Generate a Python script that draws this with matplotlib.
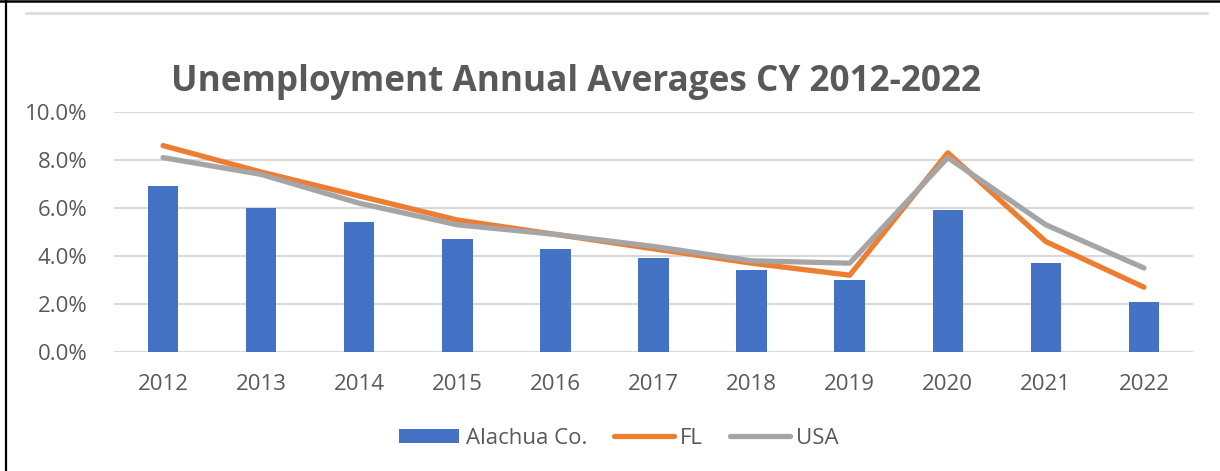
import numpy as np
import matplotlib.pyplot as plt
from matplotlib.lines import Line2D
from matplotlib.patches import Patch

years = ['2012', '2013', '2014', '2015', '2016', '2017', '2018', '2019', '2020', '2021', '2022']
alachua = [6.9, 6.0, 5.4, 4.7, 4.3, 3.9, 3.4, 3.0, 5.9, 3.7, 2.1]
fl = [8.6, 7.5, 6.5, 5.5, 4.9, 4.3, 3.7, 3.2, 8.3, 4.6, 2.7]
usa = [8.1, 7.4, 6.2, 5.3, 4.9, 4.4, 3.8, 3.7, 8.1, 5.3, 3.5]

BLUE = '#4472C4'
ORANGE = '#ED7D31'
GRAY = '#A5A5A5'
TXT = '#595959'
GRID = '#D9D9D9'

plt.rcParams['font.family'] = ['Open Sans', 'DejaVu Sans']

W, H = 1220, 471
fig = plt.figure(figsize=(W / 100, H / 100), dpi=100)
fig.patch.set_facecolor('white')

# area de ejes en pixeles: x 114..1193, y 112..352
ax = fig.add_axes([114 / W, 1 - 352 / H, (1193 - 114) / W, (352 - 112) / H])
x = np.arange(len(years))
ax.bar(x, alachua, width=0.31, color=BLUE, zorder=2)
ax.plot(x, fl, color=ORANGE, linewidth=3.8, solid_capstyle='round', solid_joinstyle='round', zorder=3)
ax.plot(x, usa, color=GRAY, linewidth=3.8, solid_capstyle='round', solid_joinstyle='round', zorder=4)

ax.set_xlim(-0.5, len(years) - 0.5)
ax.set_ylim(0, 10)
ax.set_yticks(np.arange(0, 10.1, 2))
ax.set_yticklabels([f'{v:.1f}%' for v in np.arange(0, 10.1, 2)])
ax.set_xticks(x)
ax.set_xticklabels(years)
ax.tick_params(axis='both', length=0, labelsize=16, labelcolor=TXT)
ax.tick_params(axis='y', pad=19)
ax.tick_params(axis='x', pad=16)
ax.grid(axis='y', color=GRID, linewidth=1.5, zorder=0)
ax.set_axisbelow(True)
for s in ax.spines.values():
    s.set_visible(False)

fig.text(576 / W, 1 - 82 / H, 'Unemployment Annual Averages CY 2012-2022',
         ha='center', va='center', fontsize=25.3, fontweight='bold', color=TXT)

# leyenda
handles = [Patch(facecolor=BLUE, edgecolor='none'),
           Line2D([0], [0], color=ORANGE, linewidth=3.8, solid_capstyle='round'),
           Line2D([0], [0], color=GRAY, linewidth=3.8, solid_capstyle='round')]
fig.legend(handles, ['Alachua Co.', 'FL', 'USA'], loc='center', bbox_to_anchor=(619 / W, 1 - 438 / H),
           ncol=3, frameon=False, fontsize=16, labelcolor=TXT, handlelength=2.7, handleheight=0.6,
           handletextpad=0.3, columnspacing=1.2)

# marco y linea superior
fig.add_artist(Line2D([26 / W, 1207 / W], [1 - 13 / H, 1 - 13 / H], color=GRID, linewidth=1.8))
fig.add_artist(Line2D([6 / W, 6 / W], [0, 1], color='black', linewidth=1.6))
fig.add_artist(Line2D([0, 1], [1 - 1.2 / H, 1 - 1.2 / H], color='black', linewidth=1.8))

fig.savefig('out.png', dpi=100)
